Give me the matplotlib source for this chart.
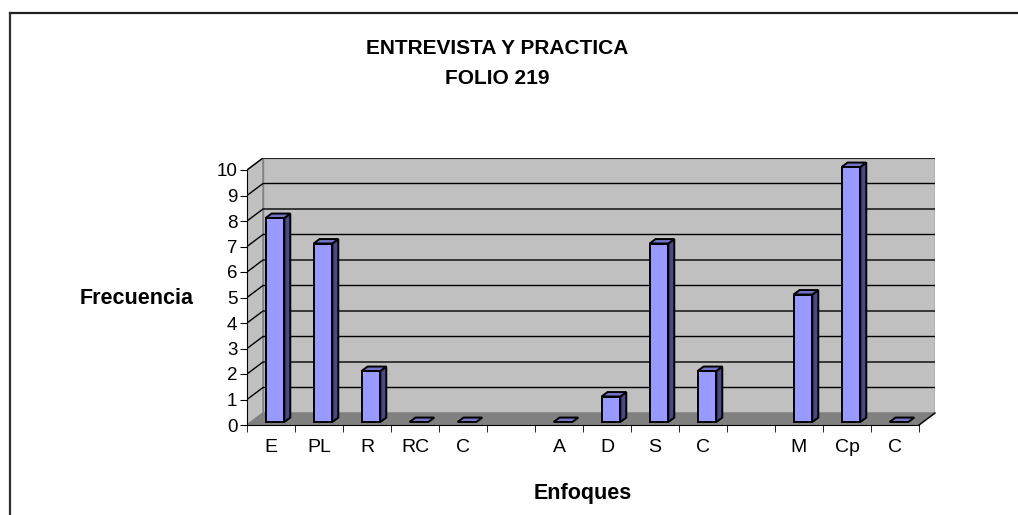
import numpy as np
import matplotlib.pyplot as plt
from matplotlib.patches import Polygon
from matplotlib.lines import Line2D

plt.rcParams['font.family'] = ['Liberation Sans', 'DejaVu Sans']

categories = ["E", "PL", "R", "RC", "C", "", "A", "D", "S", "C", "", "M", "Cp", "C"]
values = [8, 7, 2, 0, 0, np.nan, 0, 1, 7, 2, np.nan, 5, 10, 0]
yticks = list(range(0, 11))

W, H = 1018, 515
fig = plt.figure(figsize=(W / 100, H / 100), dpi=100)

# front plane: x 247..919 px, y 425..170 px ; depth offset 16 px right, 12 px up
n = len(categories)
px_x = (919 - 247) / n
px_y = (425 - 170) / 10
DX = 16 / px_x
DY = 12 / px_y

ax = fig.add_axes([247 / W, (H - 425) / H, (919 + 16 - 247) / W, (425 - 158) / H])
ax.set_xlim(0, n + DX)
ax.set_ylim(0, 10 + (425 - 158 - 255) / px_y)
ax.patch.set_visible(False)

wall = "#c0c0c0"
floor = "#808080"
# back wall, side wall, floor
ax.add_patch(Polygon([(DX, DY), (n + DX, DY), (n + DX, 10 + DY), (DX, 10 + DY)],
                     closed=True, fc=wall, ec="#808080", lw=1, zorder=1))
ax.add_patch(Polygon([(0, 0), (DX, DY), (DX, 10 + DY), (0, 10)],
                     closed=True, fc=wall, ec="#808080", lw=1, zorder=1))
ax.add_patch(Polygon([(0, 0), (n, 0), (n + DX, DY), (DX, DY)],
                     closed=True, fc=floor, ec="#808080", lw=1, zorder=1))

# gridlines
for v in yticks[1:]:
    ax.plot([0, DX, n + DX], [v, v + DY, v + DY], color="black", lw=1, zorder=2,
            solid_joinstyle="miter")

# bars
a, b = 0.25, 0.62
bw = 0.39
ddx, ddy = (b - a) * DX, (b - a) * DY
front_c, side_c, top_c = "#9999ff", "#4a4a85", "#7373c6"
for i, v in enumerate(values):
    if np.isnan(v):
        continue
    x0 = i + 0.5 - bw / 2 + a * DX
    x1 = x0 + bw
    y0 = a * DY
    top = y0 + v
    if v > 0:
        ax.add_patch(Polygon([(x0, y0), (x1, y0), (x1, top), (x0, top)],
                             closed=True, fc=front_c, ec="black", lw=1.4, zorder=3))
        ax.add_patch(Polygon([(x1, y0), (x1 + ddx, y0 + ddy), (x1 + ddx, top + ddy), (x1, top)],
                             closed=True, fc=side_c, ec="black", lw=1.4, zorder=3))
    ax.add_patch(Polygon([(x0, top), (x1, top), (x1 + ddx, top + ddy), (x0 + ddx, top + ddy)],
                         closed=True, fc=top_c, ec="black", lw=1.4, zorder=3))

# axes lines
for s in ["top", "right"]:
    ax.spines[s].set_visible(False)
ax.spines["left"].set_bounds(0, 10)
ax.spines["bottom"].set_bounds(0, n)
ax.spines["left"].set_zorder(4)
ax.spines["bottom"].set_zorder(4)
ax.plot([n, n + DX], [0, DY], color="black", lw=1, zorder=4, clip_on=False)

ax.set_yticks(yticks)
ax.set_yticklabels([str(t) for t in yticks])
ax.tick_params(axis="y", direction="out", length=5, labelsize=13.5, pad=2)

ax.set_xticks(np.arange(n) + 0.5)
ax.set_xticklabels(categories)
ax.set_xticks(np.arange(n + 1), minor=True)
ax.tick_params(axis="x", which="major", length=0, labelsize=14, pad=10)
ax.tick_params(axis="x", which="minor", direction="out", length=5)

# texts
fig.text(497 / W, 1 - 48 / H, "ENTREVISTA Y PRACTICA", ha="center", va="center",
         fontsize=15, fontweight="bold")
fig.text(497 / W, 1 - 78 / H, "FOLIO 219", ha="center", va="center",
         fontsize=15, fontweight="bold")
fig.text(80 / W, 1 - 298 / H, "Frecuencia", ha="left", va="center",
         fontsize=15.5, fontweight="bold")
fig.text(583 / W, 1 - 493 / H, "Enfoques", ha="center", va="center",
         fontsize=15.5, fontweight="bold")

# outer frame (only top and left visible)
fig.add_artist(Line2D([9.5 / W, 1.0], [1 - 12.5 / H, 1 - 12.5 / H], color="#202020", lw=1.6))
fig.add_artist(Line2D([9.5 / W, 9.5 / W], [0.0, 1 - 12.5 / H], color="#303030", lw=1.6))

fig.savefig("out.png", dpi=100)
